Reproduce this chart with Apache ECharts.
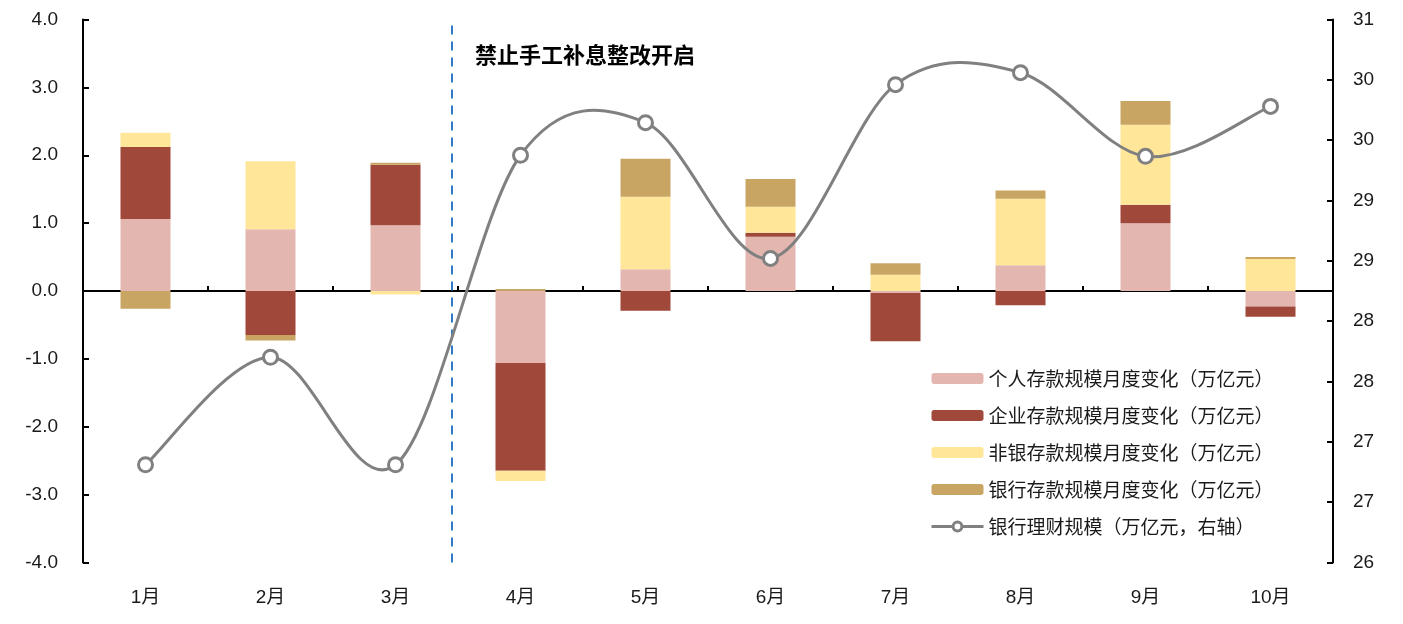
<!DOCTYPE html>
<html>
<head>
<meta charset="utf-8">
<script src="https://cdn.jsdelivr.net/npm/echarts@6/dist/echarts.min.js"></script>
<style>
  html, body { margin: 0; padding: 0; background: #ffffff; }
  #chart { width: 1403px; height: 624px; }
</style>
</head>
<body>
<div id="chart"></div>
<script>
// Months on the category axis
const months = ['1月', '2月', '3月', '4月', '5月', '6月', '7月', '8月', '9月', '10月'];

// Monthly deposit changes (万亿元), left axis
const personalDeposits  = [1.06, 0.91, 0.97, -1.06, 0.32, 0.80, -0.03, 0.38, 1.00, -0.23];
const corporateDeposits = [1.06, -0.65, 0.89, -1.59, -0.29, 0.06, -0.71, -0.21, 0.27, -0.15];
const nonbankDeposits   = [0.21, 1.00, -0.05, -0.15, 1.07, 0.38, 0.24, 0.98, 1.18, 0.47];
const bankDeposits      = [-0.26, -0.08, 0.03, 0.03, 0.56, 0.41, 0.17, 0.12, 0.35, 0.03];

// Bank wealth-management scale (万亿元), right axis
const wealthScale = [26.90, 27.89, 26.90, 29.75, 30.05, 28.80, 30.40, 30.51, 29.74, 30.20];

// Series names
const seriesNames = [
  '个人存款规模月度变化（万亿元）',
  '企业存款规模月度变化（万亿元）',
  '非银存款规模月度变化（万亿元）',
  '银行存款规模月度变化（万亿元）',
  '银行理财规模（万亿元，右轴）'
];

// Left axis range
const leftMin = -4, leftMax = 4, leftStep = 1;
// Right axis range, split into nine equal steps
const rightMin = 26, rightMax = 31, rightSteps = 9;
const rightTicks = Array.from({ length: rightSteps + 1 }, (_, i) => rightMin + i * (rightMax - rightMin) / rightSteps);

// Position (in category units) of the policy marker between March and April
const policyMarkX = 2.95;
const policyText = '禁止手工补息整改开启';

const colors = ['#E3B6B0', '#A0483A', '#FFE699', '#C9A563', '#808080'];
const numFont = "'Liberation Sans', Arial, 'Noto Sans CJK SC', sans-serif";
const cjkFont = "'Noto Sans CJK SC', 'Liberation Sans', sans-serif";

const chart = echarts.init(document.getElementById('chart'), null, { renderer: 'canvas' });

function barSeries(name, data, color) {
  return {
    name: name,
    type: 'bar',
    stack: 'deposits',
    barWidth: '40%',
    xAxisIndex: 0,
    yAxisIndex: 0,
    itemStyle: { color: color },
    emphasis: { disabled: true },
    data: data
  };
}

// Cardinal-spline segment between point i and i+1 (tangent = (next - prev) / 6)
function renderSplineSegment(params, api) {
  const i = params.dataIndex;
  const n = wealthScale.length;
  if (i >= n - 1) return null;
  const clampIdx = k => Math.min(Math.max(k, 0), n - 1);
  const pt = k => api.coord([clampIdx(k), wealthScale[clampIdx(k)]]);
  const p0 = pt(i - 1), p1 = pt(i), p2 = pt(i + 1), p3 = pt(i + 2);
  return {
    type: 'bezierCurve',
    shape: {
      x1: p1[0], y1: p1[1],
      x2: p2[0], y2: p2[1],
      cpx1: p1[0] + (p2[0] - p0[0]) / 6, cpy1: p1[1] + (p2[1] - p0[1]) / 6,
      cpx2: p2[0] - (p3[0] - p1[0]) / 6, cpy2: p2[1] - (p3[1] - p1[1]) / 6
    },
    style: { stroke: colors[4], lineWidth: 3, fill: null, lineCap: 'round' },
    silent: true
  };
}

const option = {
  animation: false,
  backgroundColor: '#ffffff',
  grid: { left: 83, right: 70, top: 19.5, bottom: 61.5 },
  legend: {
    data: [
      seriesNames[0], seriesNames[1], seriesNames[2], seriesNames[3],
      {
        name: seriesNames[4],
        lineStyle: { color: colors[4], width: 3, opacity: 1 },
        itemStyle: { color: '#ffffff', borderColor: colors[4], borderWidth: 3 }
      }
    ],
    orient: 'vertical',
    left: 925,
    top: 364,
    padding: 5,
    itemWidth: 52,
    itemHeight: 11,
    itemGap: 18,
    textStyle: { fontFamily: cjkFont, fontSize: 19, color: '#1a1a1a' },
    selectedMode: false
  },
  xAxis: [
    {
      // labelled month axis along the bottom edge
      type: 'category',
      data: months,
      position: 'bottom',
      axisLine: { show: false, onZero: false },
      axisTick: { show: false },
      axisLabel: { fontFamily: numFont, fontSize: 19, color: '#1a1a1a', margin: 26 }
    },
    {
      // zero baseline with boundary ticks
      type: 'category',
      data: months,
      position: 'bottom',
      axisLine: { show: true, onZero: true, lineStyle: { color: '#000000', width: 2 } },
      axisTick: { show: true, inside: true, length: 5, lineStyle: { color: '#000000', width: 2 } },
      axisLabel: { show: false }
    },
    {
      // continuous helper axis for the policy marker
      type: 'value',
      min: 0,
      max: months.length,
      show: false
    }
  ],
  yAxis: [
    {
      type: 'value',
      min: leftMin,
      max: leftMax,
      interval: leftStep,
      position: 'left',
      axisLine: { show: true, lineStyle: { color: '#000000', width: 2 } },
      axisTick: { show: true, inside: true, length: 6, lineStyle: { color: '#000000', width: 2 } },
      splitLine: { show: false },
      axisLabel: {
        fontFamily: numFont, fontSize: 19, color: '#1a1a1a', margin: 25,
        formatter: v => v.toFixed(1)
      }
    },
    {
      type: 'value',
      min: rightMin,
      max: rightMax,
      position: 'right',
      axisLine: { show: true, lineStyle: { color: '#000000', width: 2 } },
      axisTick: { show: true, inside: true, length: 6, customValues: rightTicks, lineStyle: { color: '#000000', width: 2 } },
      splitLine: { show: false },
      axisLabel: {
        fontFamily: numFont, fontSize: 19, color: '#1a1a1a', margin: 20,
        customValues: rightTicks,
        formatter: v => String(Math.round(v))
      }
    }
  ],
  series: [
    barSeries(seriesNames[0], personalDeposits, colors[0]),
    barSeries(seriesNames[1], corporateDeposits, colors[1]),
    barSeries(seriesNames[2], nonbankDeposits, colors[2]),
    barSeries(seriesNames[3], bankDeposits, colors[3]),
    {
      // smoothed wealth-management curve
      type: 'custom',
      xAxisIndex: 0,
      yAxisIndex: 1,
      z: 4,
      silent: true,
      renderItem: renderSplineSegment,
      encode: { x: 0, y: 1 },
      data: wealthScale.map((v, i) => [i, v])
    },
    {
      // point markers (and legend entry) for the wealth-management series
      name: seriesNames[4],
      type: 'line',
      xAxisIndex: 0,
      yAxisIndex: 1,
      symbol: 'circle',
      symbolSize: 14,
      z: 5,
      lineStyle: { color: colors[4], width: 3, opacity: 0 },
      itemStyle: { color: '#ffffff', borderColor: colors[4], borderWidth: 3 },
      emphasis: { disabled: true },
      data: wealthScale
    },
    {
      // dashed policy marker
      type: 'scatter',
      xAxisIndex: 2,
      yAxisIndex: 0,
      z: 1,
      data: [],
      silent: true,
      markLine: {
        silent: true,
        z: 1,
        symbol: ['none', 'none'],
        label: { show: false },
        lineStyle: { color: '#2E7BC4', type: [9, 7], width: 2 },
        data: [{ xAxis: policyMarkX }]
      }
    }
  ],
  graphic: [
    {
      type: 'text',
      left: 475,
      top: 44,
      style: {
        text: policyText,
        font: "bold 22px 'Noto Sans CJK SC', sans-serif",
        fill: '#000000'
      }
    }
  ]
};

chart.setOption(option);
</script>
</body>
</html>
